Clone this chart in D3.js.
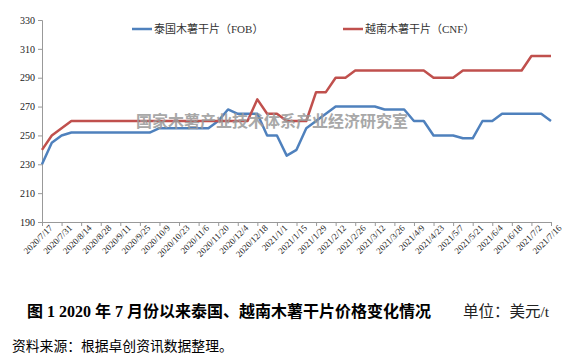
<!DOCTYPE html>
<html>
<head>
<meta charset="utf-8">
<script src="https://cdn.jsdelivr.net/npm/d3@7"></script>
<style>
  body { margin: 0; background: #fff; }
  svg { display: block; }
</style>
</head>
<body>
<div id="chart"></div>
<script>
// tick labels (every 2 weeks)
const tickLabels = ["2020/7/17","2020/7/31","2020/8/14","2020/8/28","2020/9/11","2020/9/25",
  "2020/10/9","2020/10/23","2020/11/6","2020/11/20","2020/12/4","2020/12/18","2021/1/1",
  "2021/1/15","2021/1/29","2021/2/12","2021/2/26","2021/3/12","2021/3/26","2021/4/9",
  "2021/4/23","2021/5/7","2021/5/21","2021/6/4","2021/6/18","2021/7/2","2021/7/16"];

// weekly prices, USD/t
const thaiFOB = [230,245,250,252,252,252,252,252,252,252,252,252,255,255,255,255,255,255,260,268,
  265,265,265,250,250,236,240,255,260,265,270,270,270,270,270,268,268,268,260,260,
  250,250,250,248,248,260,260,265,265,265,265,265,260];
const vietCNF = [240,250,255,260,260,260,260,260,260,260,260,260,260,260,260,260,260,260,260,260,
  260,260,275,265,265,260,260,260,280,280,290,290,295,295,295,295,295,295,295,295,
  290,290,290,295,295,295,295,295,295,295,305,305,305];

const seriesNames = ["泰国木薯干片（FOB）", "越南木薯干片（CNF）"];
const seriesColors = ["#4F81BD", "#C0504D"];
const yTicks = [190,210,230,250,270,290,310,330];

const W = 573, H = 362;
const svg = d3.select("#chart").append("svg").attr("width", W).attr("height", H);

const x = d3.scaleLinear().domain([0, thaiFOB.length - 1]).range([42, 551]);
const y = d3.scaleLinear().domain([190, 330]).range([222, 20]);

// y axis
const yAxis = svg.append("g").attr("transform", "translate(42,0)")
  .call(d3.axisLeft(y).tickValues(yTicks).tickSize(4).tickPadding(3));
yAxis.selectAll("text").attr("font-family", "Liberation Serif, serif").attr("font-size", 10).attr("fill", "#222");
yAxis.selectAll("line,path").attr("stroke", "#999");

// x axis
const xAxis = svg.append("g").attr("transform", "translate(0,222)")
  .call(d3.axisBottom(x).tickValues(d3.range(0, thaiFOB.length, 2)).tickSize(4)
    .tickFormat((d, i) => tickLabels[i]));
xAxis.selectAll("line,path").attr("stroke", "#999");
xAxis.selectAll("text")
  .attr("font-family", "Liberation Serif, serif").attr("font-size", 9).attr("fill", "#222")
  .attr("text-anchor", "end")
  .attr("transform", "translate(4,0) rotate(-45)")
  .attr("dx", 0).attr("dy", "0.6em").attr("y", 4).attr("x", 0);

// lines
const line = d3.line().x((d, i) => x(i)).y(d => y(d));
[thaiFOB, vietCNF].forEach((s, k) => {
  svg.append("path").datum(s)
    .attr("fill", "none").attr("stroke", seriesColors[k]).attr("stroke-width", 2.5)
    .attr("stroke-linejoin", "round").attr("d", line);
});

// watermark (sits over the lines)
svg.append("text").attr("x", 272).attr("y", 127).attr("text-anchor", "middle")
  .attr("font-family", "Noto Sans CJK SC").attr("font-weight", "bold").attr("font-size", 16)
  .attr("fill", "#999").attr("opacity", 0.85)
  .text("国家木薯产业技术体系产业经济研究室");

// legend
const legX = [132, 343];
seriesNames.forEach((n, k) => {
  svg.append("line").attr("x1", legX[k]).attr("x2", legX[k] + 20).attr("y1", 29).attr("y2", 29)
    .attr("stroke", seriesColors[k]).attr("stroke-width", 2.5);
  svg.append("text").attr("x", legX[k] + 22).attr("y", 33)
    .attr("font-family", "Liberation Serif, Noto Sans CJK SC").attr("font-size", 11).attr("fill", "#333")
    .text(n);
});

// caption
svg.append("text").attr("x", 27).attr("y", 317)
  .attr("font-family", "Liberation Serif, Noto Sans CJK SC").attr("font-weight", "bold").attr("font-size", 16)
  .attr("fill", "#000")
  .text("图 1 2020 年 7 月份以来泰国、越南木薯干片价格变化情况");
svg.append("text").attr("x", 463).attr("y", 317)
  .attr("font-family", "Liberation Serif, Noto Sans CJK SC").attr("font-size", 15.5).attr("fill", "#222")
  .text("单位：美元/t");
svg.append("text").attr("x", 12).attr("y", 351)
  .attr("font-family", "Liberation Serif, Noto Sans CJK SC").attr("font-size", 13.8).attr("fill", "#000")
  .text("资料来源：根据卓创资讯数据整理。");
</script>
</body>
</html>
